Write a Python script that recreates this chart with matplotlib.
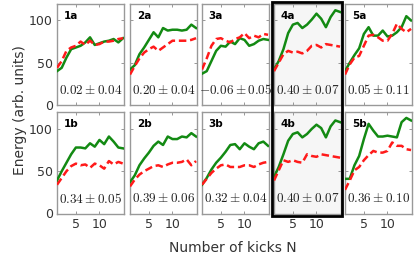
import numpy as np
import matplotlib.pyplot as plt
from matplotlib.patches import Rectangle

plt.rcParams["mathtext.fontset"] = "cm"

# kicks
N = np.arange(1, 16)

# green solid lines (per panel)
green = {
    "1a": [40, 44, 56, 66, 68, 70, 74, 80, 71, 73, 75, 76, 78, 74, 79],
    "2a": [42, 47, 60, 68, 77, 86, 80, 91, 88, 89, 89, 88, 89, 95, 91],
    "3a": [37, 40, 52, 64, 70, 69, 75, 72, 79, 77, 70, 72, 76, 78, 77],
    "4a": [42, 52, 66, 85, 95, 97, 91, 95, 101, 108, 102, 92, 104, 112, 110],
    "5a": [40, 50, 59, 67, 84, 92, 82, 82, 88, 81, 82, 86, 92, 105, 100],
    "1b": [39, 50, 60, 70, 78, 78, 77, 83, 79, 87, 82, 91, 85, 78, 77],
    "2b": [37, 45, 57, 65, 72, 80, 85, 81, 91, 88, 88, 91, 90, 95, 91],
    "3b": [34, 42, 52, 60, 66, 73, 81, 82, 76, 83, 79, 76, 83, 85, 80],
    "4b": [43, 55, 70, 86, 94, 96, 90, 94, 100, 105, 101, 90, 103, 110, 108],
    "5b": [41, 41, 57, 68, 88, 106, 98, 91, 91, 92, 91, 90, 108, 113, 110],
}

# red dashed lines
red = {
    "1a": [44, 52, 64, 68, 70, 75, 71, 76, 71, 72, 75, 75, 76, 78, 79],
    "2a": [36, 46, 55, 62, 66, 69, 64, 68, 72, 76, 76, 76, 76, 77, 79],
    "3a": [42, 55, 70, 78, 79, 76, 74, 78, 80, 85, 79, 82, 80, 84, 83],
    "4a": [40, 50, 60, 64, 62, 63, 61, 64, 70, 71, 68, 72, 71, 70, 69],
    "5a": [36, 48, 56, 58, 70, 82, 83, 80, 76, 76, 84, 96, 90, 86, 90],
    "1b": [34, 42, 50, 56, 59, 57, 58, 54, 59, 57, 53, 62, 58, 61, 59],
    "2b": [32, 40, 46, 50, 53, 56, 57, 55, 58, 60, 60, 61, 64, 57, 62],
    "3b": [34, 41, 48, 53, 57, 58, 55, 55, 55, 57, 57, 55, 58, 60, 61],
    "4b": [39, 51, 63, 61, 63, 61, 60, 70, 68, 67, 70, 69, 68, 67, 66],
    "5b": [28, 39, 51, 55, 63, 69, 74, 72, 72, 74, 84, 80, 80, 76, 75],
}

# correlation annotations
notes = {
    "1a": "0.02 \\pm 0.04", "2a": "0.20 \\pm 0.04", "3a": "-0.06 \\pm 0.05",
    "4a": "0.40 \\pm 0.07", "5a": "0.05 \\pm 0.11",
    "1b": "0.34 \\pm 0.05", "2b": "0.39 \\pm 0.06", "3b": "0.32 \\pm 0.04",
    "4b": "0.40 \\pm 0.07", "5b": "0.36 \\pm 0.10",
}

W, H = 415, 265
fig = plt.figure(figsize=(W / 100, H / 100), dpi=100)

lefts = [57, 130, 202, 274, 345]
pw = 67
rows = {"a": (3.5, 105), "b": (112, 213.5)}

for r, (top, bot) in rows.items():
    for c in range(5):
        key = f"{c + 1}{r}"
        ax = fig.add_axes([lefts[c] / W, 1 - bot / H, pw / W, (bot - top) / H])
        if c == 3:
            ax.set_facecolor("#f6f6f6")
        ax.plot(N, green[key], color="#138a13", lw=1.8, zorder=3)
        ax.plot(N, red[key], color="#ff1a1a", lw=1.8, ls=(0, (3, 1.5)), zorder=3)
        ax.set_xlim(1, 15.2)
        ax.set_ylim(0, 120)
        ax.set_xticks([5, 10])
        ax.set_yticks([0, 50, 100])
        ax.tick_params(direction="in", length=2.5, width=0.6, color="#888888",
                       top=True, right=True, labelsize=9, labelcolor="#333333", pad=3)
        if c != 0:
            ax.set_yticklabels([])
        if r == "a":
            ax.set_xticklabels([])
        for s in ax.spines.values():
            s.set_color("#999999")
            s.set_linewidth(1.0)
        ax.text(0.1, 0.93, key, transform=ax.transAxes, fontsize=7.5,
                fontweight="bold", va="top", ha="left")
        ax.text(0.5, 0.145, "$" + notes[key] + "$", transform=ax.transAxes,
                fontsize=9.5, ha="center", va="center", color="#222222")

# thick frame around column 4
fig.patches.append(Rectangle((272 / W, 1 - 216 / H), 70 / W, 214 / H,
                             transform=fig.transFigure, fill=False,
                             edgecolor="black", lw=2, zorder=10))

fig.text(20 / W, 1 - 110 / H, "Energy (arb. units)", rotation=90, fontsize=10,
         ha="center", va="center", color="#333333")
fig.text(233 / W, 1 - 248 / H, "Number of kicks N", fontsize=10,
         ha="center", va="center", color="#333333")

fig.savefig("out.png", dpi=100)
